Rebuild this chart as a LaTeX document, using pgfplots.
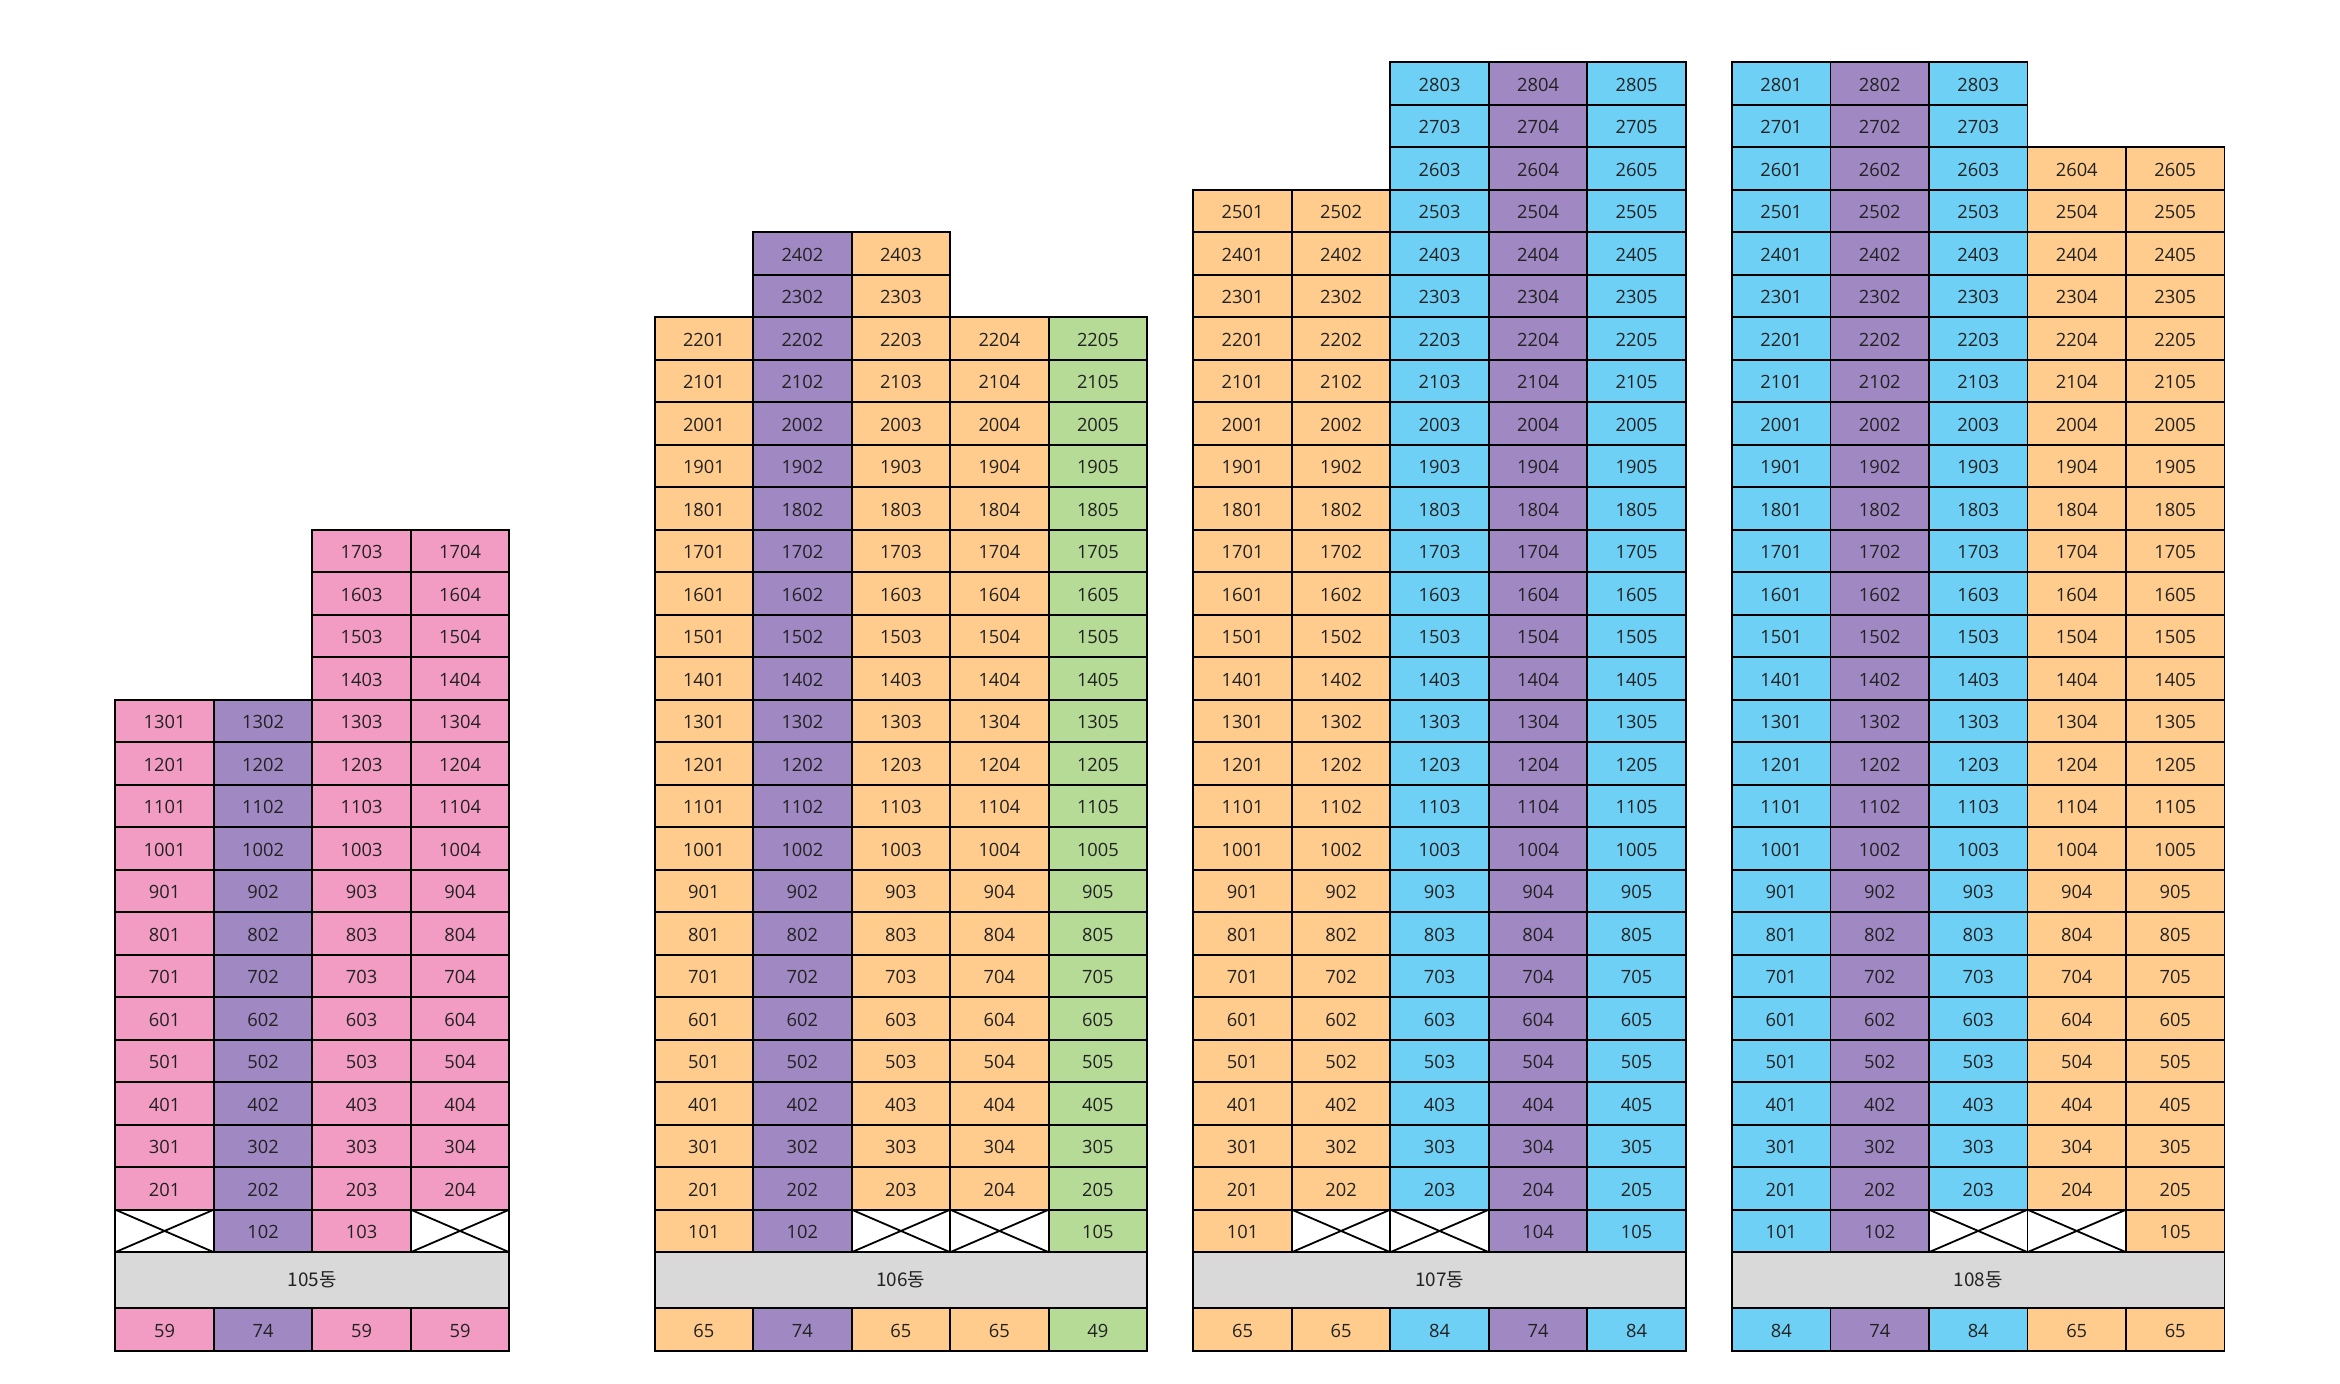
\documentclass[border=0pt]{standalone}
\usepackage{pgfplots}
\pgfplotsset{compat=1.18}
\usepackage{fontspec}
\setmainfont{Open Sans}
\newfontfamily\krfont{Noto Sans CJK KR}
\definecolor{pinkc}{HTML}{F29CC3}
\definecolor{purplec}{HTML}{A088C2}
\definecolor{bluec}{HTML}{6FD0F6}
\definecolor{orangec}{HTML}{FFCC8E}
\definecolor{greenc}{HTML}{B5DB97}
\definecolor{grayc}{HTML}{D9D9D9}
\definecolor{txtc}{HTML}{222222}
\pgfdeclareplotmark{aptcell}{%
  \pgfpathrectangle{\pgfqpoint{-16.4167pt}{-7.0833pt}}{\pgfqpoint{32.8333pt}{14.1667pt}}%
  \pgfusepathqfillstroke}
\pgfdeclareplotmark{aptx}{%
  \pgfpathrectangle{\pgfqpoint{-16.4167pt}{-7.0833pt}}{\pgfqpoint{32.8333pt}{14.1667pt}}%
  \pgfusepathqfillstroke
  \pgfpathmoveto{\pgfqpoint{-16.4167pt}{-7.0833pt}}\pgfpathlineto{\pgfqpoint{16.4167pt}{7.0833pt}}%
  \pgfpathmoveto{\pgfqpoint{-16.4167pt}{7.0833pt}}\pgfpathlineto{\pgfqpoint{16.4167pt}{-7.0833pt}}%
  \pgfusepathqstroke}
\newcommand{\cellfont}{\fontsize{6.1}{6.5}\selectfont}
\pgfplotsset{
  bld/.style={hide axis, scale only axis, width=164.1667pt, height=429.5pt,
    xmin=0.5, xmax=5.5, ymin=-1.8176, ymax=28.5, clip=false, anchor=south west},
  cells/.style={only marks, mark=aptcell,
    mark options={fill=#1, draw=black, line width=0.6pt},
    nodes near coords, point meta=explicit symbolic,
    every node near coord/.append style={anchor=center, font=\cellfont, text=txtc, inner sep=0pt, yshift=-0.2pt}},
  xcells/.style={only marks, mark=aptx, mark options={fill=white, draw=black, line width=0.6pt}},
  band/.style={fill=grayc, draw=black, line width=0.6pt},
}
\begin{document}
\begin{tikzpicture}
\path[use as bounding box] (0,0) rectangle (780pt,461.33pt);

% ---------------- 105
\begin{axis}[bld, at={(38.43pt,11.1pt)}]
\addplot[band] coordinates {(0.5,-0.8176) (4.5,-0.8176) (4.5,0.5) (0.5,0.5)} -- cycle;
\addplot[cells=pinkc] coordinates {
(1,2)[201] (1,3)[301] (1,4)[401] (1,5)[501] (1,6)[601] (1,7)[701] (1,8)[801] (1,9)[901] (1,10)[1001] (1,11)[1101] (1,12)[1201] (1,13)[1301]
(3,1)[103] (3,2)[203] (3,3)[303] (3,4)[403] (3,5)[503] (3,6)[603] (3,7)[703] (3,8)[803] (3,9)[903] (3,10)[1003] (3,11)[1103] (3,12)[1203] (3,13)[1303] (3,14)[1403] (3,15)[1503] (3,16)[1603] (3,17)[1703]
(4,2)[204] (4,3)[304] (4,4)[404] (4,5)[504] (4,6)[604] (4,7)[704] (4,8)[804] (4,9)[904] (4,10)[1004] (4,11)[1104] (4,12)[1204] (4,13)[1304] (4,14)[1404] (4,15)[1504] (4,16)[1604] (4,17)[1704]
(1,-1.3176)[59] (3,-1.3176)[59] (4,-1.3176)[59]
};
\addplot[cells=purplec] coordinates {
(2,1)[102] (2,2)[202] (2,3)[302] (2,4)[402] (2,5)[502] (2,6)[602] (2,7)[702] (2,8)[802] (2,9)[902] (2,10)[1002] (2,11)[1102] (2,12)[1202] (2,13)[1302]
(2,-1.3176)[74]
};
\addplot[xcells] coordinates {(1,1) (4,1)};
\node[font=\krfont\fontsize{6.3}{6.5}\selectfont, text=txtc] at (axis cs:2.5,-0.1588) {105동};
\end{axis}

% ---------------- 106
\begin{axis}[bld, at={(218.23pt,11.1pt)}]
\addplot[band] coordinates {(0.5,-0.8176) (5.5,-0.8176) (5.5,0.5) (0.5,0.5)} -- cycle;
\addplot[cells=orangec] coordinates {
(1,1)[101] (1,2)[201] (1,3)[301] (1,4)[401] (1,5)[501] (1,6)[601] (1,7)[701] (1,8)[801] (1,9)[901] (1,10)[1001] (1,11)[1101] (1,12)[1201] (1,13)[1301] (1,14)[1401] (1,15)[1501] (1,16)[1601] (1,17)[1701] (1,18)[1801] (1,19)[1901] (1,20)[2001] (1,21)[2101] (1,22)[2201]
(3,2)[203] (3,3)[303] (3,4)[403] (3,5)[503] (3,6)[603] (3,7)[703] (3,8)[803] (3,9)[903] (3,10)[1003] (3,11)[1103] (3,12)[1203] (3,13)[1303] (3,14)[1403] (3,15)[1503] (3,16)[1603] (3,17)[1703] (3,18)[1803] (3,19)[1903] (3,20)[2003] (3,21)[2103] (3,22)[2203] (3,23)[2303] (3,24)[2403]
(4,2)[204] (4,3)[304] (4,4)[404] (4,5)[504] (4,6)[604] (4,7)[704] (4,8)[804] (4,9)[904] (4,10)[1004] (4,11)[1104] (4,12)[1204] (4,13)[1304] (4,14)[1404] (4,15)[1504] (4,16)[1604] (4,17)[1704] (4,18)[1804] (4,19)[1904] (4,20)[2004] (4,21)[2104] (4,22)[2204]
(1,-1.3176)[65] (3,-1.3176)[65] (4,-1.3176)[65]
};
\addplot[cells=purplec] coordinates {
(2,1)[102] (2,2)[202] (2,3)[302] (2,4)[402] (2,5)[502] (2,6)[602] (2,7)[702] (2,8)[802] (2,9)[902] (2,10)[1002] (2,11)[1102] (2,12)[1202] (2,13)[1302] (2,14)[1402] (2,15)[1502] (2,16)[1602] (2,17)[1702] (2,18)[1802] (2,19)[1902] (2,20)[2002] (2,21)[2102] (2,22)[2202] (2,23)[2302] (2,24)[2402]
(2,-1.3176)[74]
};
\addplot[cells=greenc] coordinates {
(5,1)[105] (5,2)[205] (5,3)[305] (5,4)[405] (5,5)[505] (5,6)[605] (5,7)[705] (5,8)[805] (5,9)[905] (5,10)[1005] (5,11)[1105] (5,12)[1205] (5,13)[1305] (5,14)[1405] (5,15)[1505] (5,16)[1605] (5,17)[1705] (5,18)[1805] (5,19)[1905] (5,20)[2005] (5,21)[2105] (5,22)[2205]
(5,-1.3176)[49]
};
\addplot[xcells] coordinates {(3,1) (4,1)};
\node[font=\krfont\fontsize{6.3}{6.5}\selectfont, text=txtc] at (axis cs:3,-0.1588) {106동};
\end{axis}

% ---------------- 107
\begin{axis}[bld, at={(397.77pt,11.1pt)}]
\addplot[band] coordinates {(0.5,-0.8176) (5.5,-0.8176) (5.5,0.5) (0.5,0.5)} -- cycle;
\addplot[cells=orangec] coordinates {
(1,1)[101] (1,2)[201] (1,3)[301] (1,4)[401] (1,5)[501] (1,6)[601] (1,7)[701] (1,8)[801] (1,9)[901] (1,10)[1001] (1,11)[1101] (1,12)[1201] (1,13)[1301] (1,14)[1401] (1,15)[1501] (1,16)[1601] (1,17)[1701] (1,18)[1801] (1,19)[1901] (1,20)[2001] (1,21)[2101] (1,22)[2201] (1,23)[2301] (1,24)[2401] (1,25)[2501]
(2,2)[202] (2,3)[302] (2,4)[402] (2,5)[502] (2,6)[602] (2,7)[702] (2,8)[802] (2,9)[902] (2,10)[1002] (2,11)[1102] (2,12)[1202] (2,13)[1302] (2,14)[1402] (2,15)[1502] (2,16)[1602] (2,17)[1702] (2,18)[1802] (2,19)[1902] (2,20)[2002] (2,21)[2102] (2,22)[2202] (2,23)[2302] (2,24)[2402] (2,25)[2502]
(1,-1.3176)[65] (2,-1.3176)[65]
};
\addplot[cells=bluec] coordinates {
(3,2)[203] (3,3)[303] (3,4)[403] (3,5)[503] (3,6)[603] (3,7)[703] (3,8)[803] (3,9)[903] (3,10)[1003] (3,11)[1103] (3,12)[1203] (3,13)[1303] (3,14)[1403] (3,15)[1503] (3,16)[1603] (3,17)[1703] (3,18)[1803] (3,19)[1903] (3,20)[2003] (3,21)[2103] (3,22)[2203] (3,23)[2303] (3,24)[2403] (3,25)[2503] (3,26)[2603] (3,27)[2703] (3,28)[2803]
(5,1)[105] (5,2)[205] (5,3)[305] (5,4)[405] (5,5)[505] (5,6)[605] (5,7)[705] (5,8)[805] (5,9)[905] (5,10)[1005] (5,11)[1105] (5,12)[1205] (5,13)[1305] (5,14)[1405] (5,15)[1505] (5,16)[1605] (5,17)[1705] (5,18)[1805] (5,19)[1905] (5,20)[2005] (5,21)[2105] (5,22)[2205] (5,23)[2305] (5,24)[2405] (5,25)[2505] (5,26)[2605] (5,27)[2705] (5,28)[2805]
(3,-1.3176)[84] (5,-1.3176)[84]
};
\addplot[cells=purplec] coordinates {
(4,1)[104] (4,2)[204] (4,3)[304] (4,4)[404] (4,5)[504] (4,6)[604] (4,7)[704] (4,8)[804] (4,9)[904] (4,10)[1004] (4,11)[1104] (4,12)[1204] (4,13)[1304] (4,14)[1404] (4,15)[1504] (4,16)[1604] (4,17)[1704] (4,18)[1804] (4,19)[1904] (4,20)[2004] (4,21)[2104] (4,22)[2204] (4,23)[2304] (4,24)[2404] (4,25)[2504] (4,26)[2604] (4,27)[2704] (4,28)[2804]
(4,-1.3176)[74]
};
\addplot[xcells] coordinates {(2,1) (3,1)};
\node[font=\krfont\fontsize{6.3}{6.5}\selectfont, text=txtc] at (axis cs:3,-0.1588) {107동};
\end{axis}

% ---------------- 108
\begin{axis}[bld, at={(577.33pt,11.1pt)}]
\addplot[band] coordinates {(0.5,-0.8176) (5.5,-0.8176) (5.5,0.5) (0.5,0.5)} -- cycle;
\addplot[cells=bluec] coordinates {
(1,1)[101] (1,2)[201] (1,3)[301] (1,4)[401] (1,5)[501] (1,6)[601] (1,7)[701] (1,8)[801] (1,9)[901] (1,10)[1001] (1,11)[1101] (1,12)[1201] (1,13)[1301] (1,14)[1401] (1,15)[1501] (1,16)[1601] (1,17)[1701] (1,18)[1801] (1,19)[1901] (1,20)[2001] (1,21)[2101] (1,22)[2201] (1,23)[2301] (1,24)[2401] (1,25)[2501] (1,26)[2601] (1,27)[2701] (1,28)[2801]
(3,2)[203] (3,3)[303] (3,4)[403] (3,5)[503] (3,6)[603] (3,7)[703] (3,8)[803] (3,9)[903] (3,10)[1003] (3,11)[1103] (3,12)[1203] (3,13)[1303] (3,14)[1403] (3,15)[1503] (3,16)[1603] (3,17)[1703] (3,18)[1803] (3,19)[1903] (3,20)[2003] (3,21)[2103] (3,22)[2203] (3,23)[2303] (3,24)[2403] (3,25)[2503] (3,26)[2603] (3,27)[2703] (3,28)[2803]
(1,-1.3176)[84] (3,-1.3176)[84]
};
\addplot[cells=purplec] coordinates {
(2,1)[102] (2,2)[202] (2,3)[302] (2,4)[402] (2,5)[502] (2,6)[602] (2,7)[702] (2,8)[802] (2,9)[902] (2,10)[1002] (2,11)[1102] (2,12)[1202] (2,13)[1302] (2,14)[1402] (2,15)[1502] (2,16)[1602] (2,17)[1702] (2,18)[1802] (2,19)[1902] (2,20)[2002] (2,21)[2102] (2,22)[2202] (2,23)[2302] (2,24)[2402] (2,25)[2502] (2,26)[2602] (2,27)[2702] (2,28)[2802]
(2,-1.3176)[74]
};
\addplot[cells=orangec] coordinates {
(4,2)[204] (4,3)[304] (4,4)[404] (4,5)[504] (4,6)[604] (4,7)[704] (4,8)[804] (4,9)[904] (4,10)[1004] (4,11)[1104] (4,12)[1204] (4,13)[1304] (4,14)[1404] (4,15)[1504] (4,16)[1604] (4,17)[1704] (4,18)[1804] (4,19)[1904] (4,20)[2004] (4,21)[2104] (4,22)[2204] (4,23)[2304] (4,24)[2404] (4,25)[2504] (4,26)[2604]
(5,1)[105] (5,2)[205] (5,3)[305] (5,4)[405] (5,5)[505] (5,6)[605] (5,7)[705] (5,8)[805] (5,9)[905] (5,10)[1005] (5,11)[1105] (5,12)[1205] (5,13)[1305] (5,14)[1405] (5,15)[1505] (5,16)[1605] (5,17)[1705] (5,18)[1805] (5,19)[1905] (5,20)[2005] (5,21)[2105] (5,22)[2205] (5,23)[2305] (5,24)[2405] (5,25)[2505] (5,26)[2605]
(4,-1.3176)[65] (5,-1.3176)[65]
};
\addplot[xcells] coordinates {(3,1) (4,1)};
\node[font=\krfont\fontsize{6.3}{6.5}\selectfont, text=txtc] at (axis cs:3,-0.1588) {108동};
\end{axis}
\end{tikzpicture}
\end{document}
